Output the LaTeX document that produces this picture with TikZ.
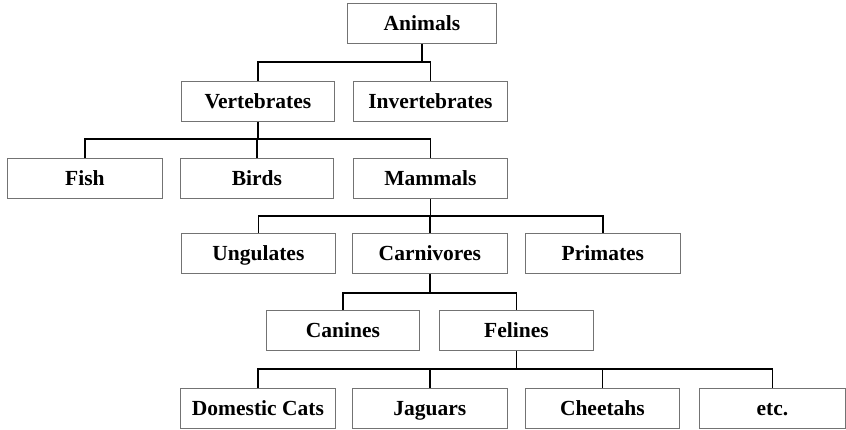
\documentclass[tikz,border=0pt]{standalone}
\usepackage{fontspec}
\setmainfont{Liberation Serif}
\begin{document}
\begin{tikzpicture}[x=1pt,y=-1pt,
  cat/.style={draw=black!55, line width=0.8pt, minimum height=40pt,
    inner sep=0pt, anchor=north west, text height=14pt, text depth=0pt,
    font=\bfseries\fontsize{21.5}{24}\selectfont},
  link/.style={line width=1.5pt, black}]
\useasboundingbox (0,0) rectangle (846,430);

% tree levels
\node[cat, minimum width=149pt] (anim) at (347,3)   {Animals};

\node[cat, minimum width=153pt] (vert) at (181,81)  {Vertebrates};
\node[cat, minimum width=154pt] (inv)  at (353,81)  {Invertebrates};

\node[cat, minimum width=155pt] (fish)  at (7,158)   {Fish};
\node[cat, minimum width=153pt] (birds) at (180,158) {Birds};
\node[cat, minimum width=154pt] (mam)   at (353,158) {Mammals};

\node[cat, minimum width=154pt] (ung)  at (181,233) {Ungulates};
\node[cat, minimum width=155pt] (carn) at (352,233) {Carnivores};
\node[cat, minimum width=155pt] (prim) at (525,233) {Primates};

\node[cat, minimum width=153pt] (can) at (266,310) {Canines};
\node[cat, minimum width=154pt] (fel) at (439,310) {Felines};

\node[cat, minimum width=155pt] (dom)  at (180,388) {Domestic Cats};
\node[cat, minimum width=155pt] (jag)  at (352,388) {Jaguars};
\node[cat, minimum width=154pt] (chee) at (525,388) {Cheetahs};
\node[cat, minimum width=146pt] (etc)  at (699,388) {etc.};

% heights of the horizontal bus lines
\coordinate (b1) at (0,62);
\coordinate (b2) at (0,139);
\coordinate (b3) at (0,216);
\coordinate (b4) at (0,293);
\coordinate (b5) at (0,369);

% Animals
\draw[link] (anim.south) -- (anim.south |- b1);
\draw[link] (vert.north) |- (inv.north |- b1) -- (inv.north);

% Vertebrates
\draw[link] (vert.south) -- (vert.south |- b2);
\draw[link] (fish.north) |- (mam.north |- b2) -- (mam.north);
\draw[link] (birds.north) -- (birds.north |- b2);

% Mammals
\draw[link] (mam.south) -- (mam.south |- b3);
\draw[link] (ung.north) |- (prim.north |- b3) -- (prim.north);
\draw[link] (carn.north) -- (carn.north |- b3);

% Carnivores
\draw[link] (carn.south) -- (carn.south |- b4);
\draw[link] (can.north) |- (fel.north |- b4) -- (fel.north);

% Felines
\draw[link] (fel.south) -- (fel.south |- b5);
\draw[link] (dom.north) |- (etc.north |- b5) -- (etc.north);
\draw[link] (jag.north) -- (jag.north |- b5);
\draw[link] (chee.north) -- (chee.north |- b5);
\end{tikzpicture}
\end{document}
